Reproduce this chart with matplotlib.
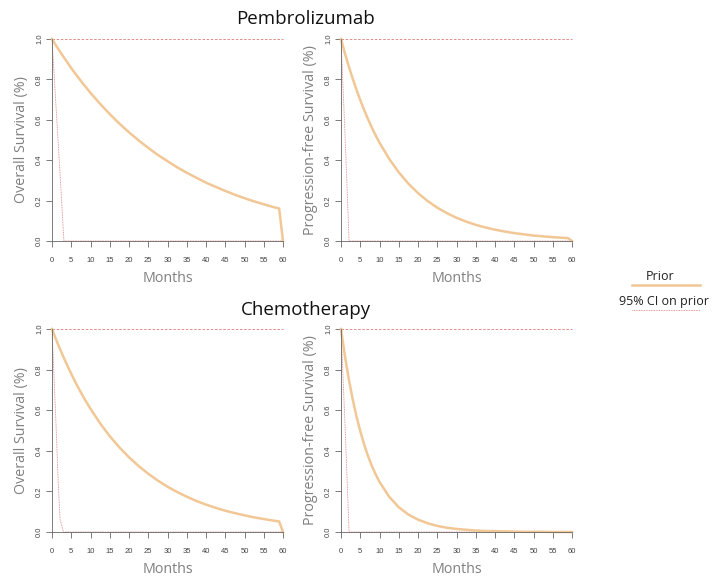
import matplotlib.pyplot as plt

plt.rcParams["font.family"] = ["Open Sans", "DejaVu Sans"]

# Prior survival curves (proportion alive / progression-free by month)
MONTHS = [0, 1, 2, 3, 4, 5, 6, 7, 8, 9, 10, 12.5, 15, 17.5, 20, 22.5, 25,
          27.5, 30, 32.5, 35, 37.5, 40, 42.5, 45, 47.5, 50, 52.5, 55, 57.5,
          59, 60]
OS_PEMBRO = [1.0, 0.969, 0.94, 0.911, 0.884, 0.856, 0.83, 0.805, 0.78, 0.757,
             0.733, 0.679, 0.628, 0.581, 0.538, 0.498, 0.461, 0.426, 0.395,
             0.365, 0.338, 0.313, 0.289, 0.268, 0.248, 0.229, 0.212, 0.196,
             0.182, 0.168, 0.161, 0.0]
PFS_PEMBRO = [1.0, 0.93, 0.866, 0.806, 0.75, 0.698, 0.649, 0.604, 0.562,
              0.523, 0.487, 0.407, 0.34, 0.284, 0.237, 0.198, 0.165, 0.138,
              0.115, 0.096, 0.08, 0.067, 0.056, 0.047, 0.039, 0.033, 0.027,
              0.023, 0.019, 0.016, 0.014, 0.0]
OS_CHEMO = [1.0, 0.951, 0.905, 0.861, 0.819, 0.779, 0.741, 0.705, 0.67,
            0.638, 0.607, 0.535, 0.472, 0.417, 0.368, 0.325, 0.287, 0.253,
            0.223, 0.197, 0.174, 0.153, 0.135, 0.119, 0.105, 0.093, 0.082,
            0.072, 0.064, 0.056, 0.052, 0.0]
PFS_CHEMO = [1.0, 0.869, 0.756, 0.657, 0.571, 0.497, 0.432, 0.375, 0.326,
             0.284, 0.247, 0.174, 0.122, 0.086, 0.061, 0.043, 0.03, 0.021,
             0.015, 0.011, 0.007, 0.005, 0.004, 0.003, 0.002, 0.001, 0.001,
             0.001, 0.0, 0.0, 0.0, 0.0]

# 95% CI on the prior: upper bound stays at 1, lower bound collapses early
CI_UPPER_X = [0, 60]
CI_UPPER_Y = [1.0, 1.0]
OS_PEMBRO_LO_X = [0, 1, 2, 3.1, 60]
OS_PEMBRO_LO_Y = [1.0, 0.68, 0.36, 0.0, 0.0]
PFS_PEMBRO_LO_X = [0, 1, 2.1, 60]
PFS_PEMBRO_LO_Y = [1.0, 0.55, 0.0, 0.0]
OS_CHEMO_LO_X = [0, 1, 1.6, 2.1, 3.0, 60]
OS_CHEMO_LO_Y = [1.0, 0.55, 0.25, 0.06, 0.0, 0.0]
PFS_CHEMO_LO_X = [0, 1, 2.1, 60]
PFS_CHEMO_LO_Y = [1.0, 0.55, 0.0, 0.0]

PRIOR_COLOR = "#F1C796"
CI_COLOR = "#E07A7A"
AXIS_GRAY = "#666666"
LABEL_GRAY = "#808080"

W, H = 715, 579
fig = plt.figure(figsize=(W / 100, H / 100), dpi=100)


def px_axes(x0, y0, x1, y1):
    return fig.add_axes([x0 / W, 1 - y1 / H, (x1 - x0) / W, (y1 - y0) / H])


panels = [
    (52, 39, 283, 241, OS_PEMBRO, OS_PEMBRO_LO_X, OS_PEMBRO_LO_Y,
     "Overall Survival (%)"),
    (341, 39, 572, 241, PFS_PEMBRO, PFS_PEMBRO_LO_X, PFS_PEMBRO_LO_Y,
     "Progression-free Survival (%)"),
    (52, 329, 283, 532, OS_CHEMO, OS_CHEMO_LO_X, OS_CHEMO_LO_Y,
     "Overall Survival (%)"),
    (341, 329, 572, 532, PFS_CHEMO, PFS_CHEMO_LO_X, PFS_CHEMO_LO_Y,
     "Progression-free Survival (%)"),
]

for x0, y0, x1, y1, surv, lo_x, lo_y, ylabel in panels:
    ax = px_axes(x0, y0, x1, y1)
    ax.plot(CI_UPPER_X, CI_UPPER_Y, color=CI_COLOR, lw=0.6,
            ls=(0, (3, 2)), clip_on=False)
    ax.plot(lo_x, lo_y, color=CI_COLOR, lw=0.6, ls=(0, (1, 1)),
            clip_on=False)
    ax.plot(MONTHS, surv, color=PRIOR_COLOR, lw=1.8, clip_on=False,
            solid_joinstyle="round")
    ax.set_xlim(0, 60)
    ax.set_ylim(0, 1)
    ax.set_xticks(range(0, 61, 5))
    ax.set_yticks([0, 0.2, 0.4, 0.6, 0.8, 1.0])
    ax.set_yticklabels(["0.0", "0.2", "0.4", "0.6", "0.8", "1.0"],
                       rotation=90, va="center")
    for side in ("top", "right"):
        ax.spines[side].set_visible(False)
    for side in ("left", "bottom"):
        ax.spines[side].set_color(AXIS_GRAY)
        ax.spines[side].set_linewidth(0.6)
    ax.tick_params(axis="both", length=4.5, width=0.6, color=AXIS_GRAY,
                   labelsize=5.5, labelcolor="#444444")
    for lab in ax.get_xticklabels() + ax.get_yticklabels():
        lab.set_family("Liberation Sans")
    ax.tick_params(axis="x", pad=7)
    ax.tick_params(axis="y", pad=2)
    ax.set_xlabel("Months", fontsize=10.3, color=LABEL_GRAY, labelpad=5)
    ax.set_ylabel(ylabel, fontsize=10.3, color=LABEL_GRAY, labelpad=5)

fig.text(306 / W, 1 - 19 / H, "Pembrolizumab", ha="center", va="center",
         fontsize=13.5, color="#111111")
fig.text(306 / W, 1 - 310 / H, "Chemotherapy", ha="center", va="center",
         fontsize=13.5, color="#111111")

# Legend, drawn by hand to the right of the panels
leg = fig.add_axes([0, 0, 1, 1])
leg.set_xlim(0, W)
leg.set_ylim(H, 0)
leg.axis("off")
leg.text(660, 276, "Prior", ha="center", va="center", fontsize=9,
         color="#222222")
leg.plot([632, 700], [285, 285], color=PRIOR_COLOR, lw=1.8)
leg.text(664, 301, "95% CI on prior", ha="center", va="center", fontsize=9,
         color="#222222")
leg.plot([632, 700], [310, 310], color=CI_COLOR, lw=0.6, ls=(0, (1, 1)))

fig.savefig("out.png", dpi=100)
